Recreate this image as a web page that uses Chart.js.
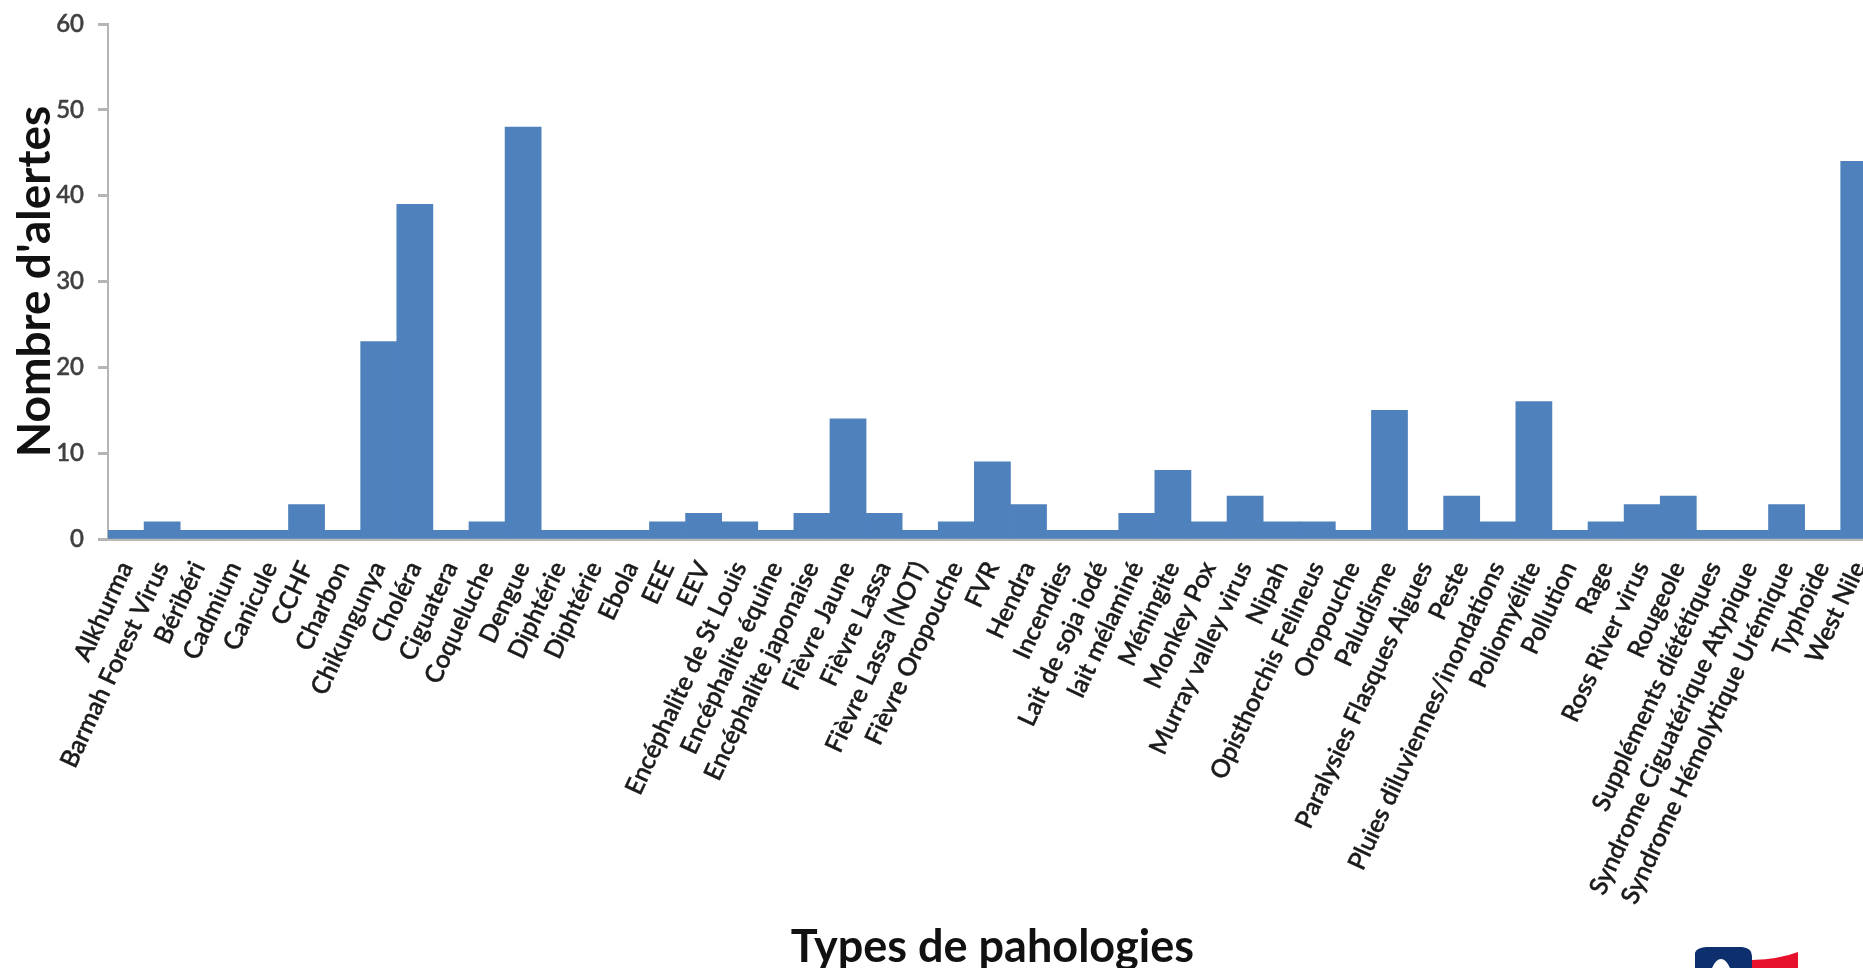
<!DOCTYPE html>
<html>
<head>
<meta charset="utf-8">
<style>
html, body { margin: 0; padding: 0; background: #fff; overflow: hidden; width: 1863px; height: 968px; }
#wrap { position: relative; width: 1896px; height: 974px; }
#logo { position: absolute; left: 1690px; top: 944px; }
</style>
<script src="https://cdn.jsdelivr.net/npm/chart.js@4"></script>
</head>
<body>
<div id="wrap">
    <canvas id="chart"></canvas>
    <!-- logo cut off by the bottom edge, same as the source -->
    <svg id="logo" width="115" height="24" viewBox="0 0 115 24">
        <path d="M62 16 Q90 15 108 8 L108 24 L62 24 Z" fill="#e8112d"/>
        <path d="M5 24 L5 9 Q6 4 16 3 L52 3 Q62 4 62 12 L62 24 L40 24 Q36 15 31 15 Q26 15 22 24 Z" fill="#0d2f6e"/>
    </svg>
</div>
<script>
const categories = [
    "Alkhurma", "Barmah Forest Virus", "Béribéri", "Cadmium", "Canicule", "CCHF", "Charbon",
    "Chikungunya", "Choléra", "Ciguatera", "Coqueluche", "Dengue", "Diphtérie", "Diphtérie",
    "Ebola", "EEE", "EEV", "Encéphalite de St Louis", "Encéphalite équine", "Encéphalite japonaise",
    "Fièvre Jaune", "Fièvre Lassa", "Fièvre Lassa (NOT)", "Fièvre Oropouche", "FVR", "Hendra",
    "Incendies", "Lait de soja iodé", "lait mélaminé", "Méningite", "Monkey Pox", "Murray valley virus",
    "Nipah", "Opisthorchis Felineus", "Oropouche", "Paludisme", "Paralysies Flasques Aigues", "Peste",
    "Pluies diluviennes/inondations", "Poliomyélite", "Pollution", "Rage", "Ross River virus", "Rougeole",
    "Suppléments diététiques", "Syndrome Ciguatérique Atypique", "Syndrome Hémolytique Urémique",
    "Typhoïde", "West Nile",
];
const alertes = [
    1, 2, 1, 1, 1, 4, 1,
    23, 39, 1, 2, 48, 1, 1,
    1, 2, 3, 2, 1, 3,
    14, 3, 1, 2, 9, 4,
    1, 1, 3, 8, 2, 5,
    2, 2, 1, 15, 1, 5,
    2, 16, 1, 2, 4, 5,
    1, 1, 4,
    1, 44,
];
const yTicks = [0, 10, 20, 30, 40, 50, 60];

const ctx = document.getElementById("chart").getContext("2d");

new Chart(ctx, {
    type: "bar",
    data: {
        labels: categories,
        datasets: [
            {
                data: alertes,
                backgroundColor: "#4f81bd",
                categoryPercentage: 1,
                barPercentage: 1,
            },
        ],
    },
    options: {
        responsive: true,
        maintainAspectRatio: false,
        animation: false,
        layout: { padding: { top: 24, right: 5, bottom: 0, left: 0 } },
        plugins: {
            legend: { display: false },
            tooltip: { enabled: false },
        },
        scales: {
            x: {
                offset: true,
                afterFit: function (scale) {
                    scale.height = 435;
                },
                grid: { display: false },
                border: { color: "#bdbab5", width: 3 },
                ticks: {
                    autoSkip: false,
                    minRotation: 65,
                    maxRotation: 65,
                    padding: 10,
                    color: "#1a1a1a",
                    textStrokeColor: "#222",
                    textStrokeWidth: 0.5,
                    font: { family: "Lato", size: 25, weight: "500" },
                },
                title: {
                    display: true,
                    text: "Types de pahologies",
                    color: "#111",
                    padding: { top: 0, bottom: 0 },
                    font: { family: "Lato", size: 45, weight: "bold" },
                },
            },
            y: {
                min: 0,
                max: 60,
                afterFit: function (scale) {
                    scale.width = 108;
                    // top label overflow would otherwise push the plot down
                    scale.paddingTop = 0;
                },
                afterBuildTicks: function (axis) {
                    axis.ticks = yTicks.map(function (v) {
                        return { value: v };
                    });
                },
                grid: {
                    drawOnChartArea: false,
                    color: "#b5b5b5",
                    tickLength: 10,
                    tickWidth: 3,
                },
                border: { color: "#b5b5b5", width: 2 },
                ticks: {
                    color: "#404040",
                    padding: 14,
                    textStrokeColor: "#404040",
                    textStrokeWidth: 0.5,
                    font: { family: "Lato", size: 24, weight: "500" },
                },
                title: {
                    display: true,
                    text: "Nombre d'alertes",
                    color: "#111",
                    padding: { top: 8, bottom: 0 },
                    font: { family: "Lato", size: 46, weight: "bold" },
                },
            },
        },
    },
});
</script>
</body>
</html>
